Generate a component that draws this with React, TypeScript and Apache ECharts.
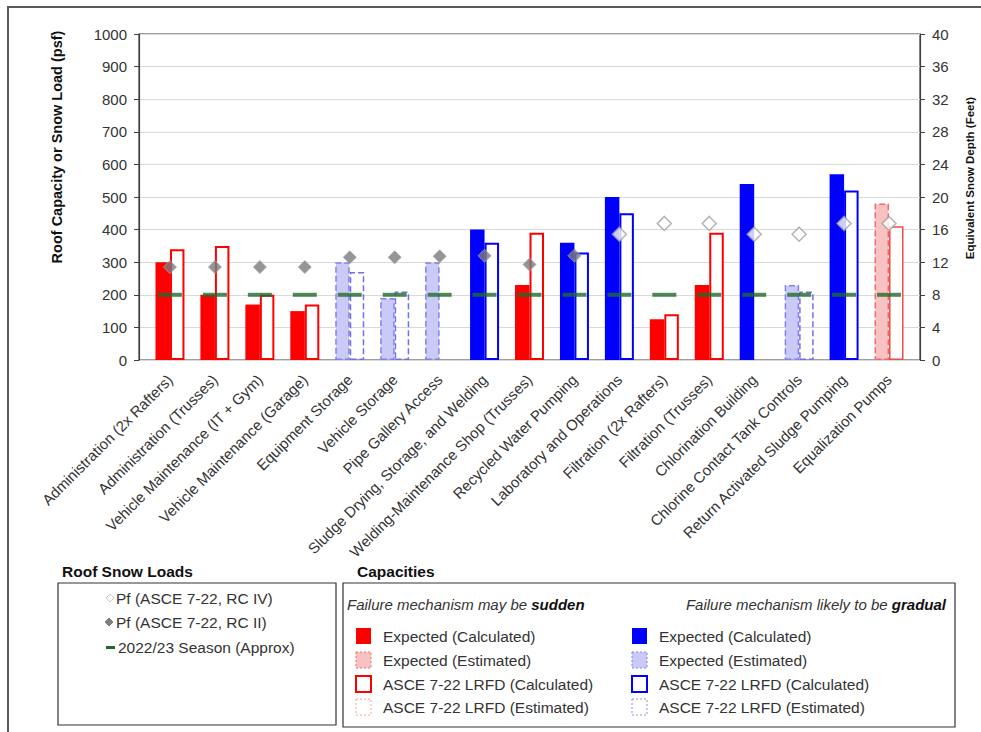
import React, { useEffect, useRef } from "react";
import * as echarts from "echarts";

const categories = [
  "Administration (2x Rafters)",
  "Administration (Trusses)",
  "Vehicle Maintenance (IT + Gym)",
  "Vehicle Maintenance (Garage)",
  "Equipment Storage",
  "Vehicle Storage",
  "Pipe Gallery Access",
  "Sludge Drying, Storage, and Welding",
  "Welding-Maintenance Shop (Trusses)",
  "Recycled Water Pumping",
  "Laboratory and Operations",
  "Filtration (2x Rafters)",
  "Filtration (Trusses)",
  "Chlorination Building",
  "Chlorine Contact Tank Controls",
  "Return Activated Sludge Pumping",
  "Equalization Pumps",
];

const N = null;
// Capacities (psf)
const expSuddenCalc = [300, 200, 170, 150, N, N, N, N, 230, N, N, 125, 230, N, N, N, N];
const expSuddenEst = [N, N, N, N, N, N, N, N, N, N, N, N, N, N, N, N, 480];
const lrfdSuddenCalc = [340, 350, 200, 170, N, N, N, N, 390, N, N, 140, 390, N, N, N, N];
const lrfdSuddenEst = [N, N, N, N, N, N, N, N, N, N, N, N, N, N, N, N, 410];
const expGradualCalc = [N, N, N, N, N, N, N, 400, N, 360, 500, N, N, 540, N, 570, N];
const expGradualEst = [N, N, N, N, 300, 190, 300, N, N, N, N, N, N, N, 230, N, N];
const lrfdGradualCalc = [N, N, N, N, N, N, N, 360, N, 330, 450, N, N, N, N, 520, N];
const lrfdGradualEst = [N, N, N, N, 270, 210, N, N, N, N, N, N, N, N, 210, N, N];

// Roof snow loads (psf)
const pfRC4 = [N, N, N, N, N, N, N, N, N, N, 386, 419, 419, 386, 386, 419, 419];
const pfRC2 = [285, 285, 285, 285, 315, 315, 318, 320, 293, 320, N, N, N, N, N, N, N];
const season2223 = [200, 200, 200, 200, 200, 200, 200, 200, 200, 200, 200, 200, 200, 200, 200, 200, 200];

// Axis ranges
const leftAxis = { min: 0, max: 1000, interval: 100 };
const rightAxis = { min: 0, max: 40, interval: 4 };

const FONT = "'Liberation Sans', Arial, sans-serif";
const TXT = "#333333";

const RED = "#FF0000";
const BLUE = "#0000FF";
const PINK_FILL = "#F9C2C2";
const PINK_LINE = "#F06A6A";
const LAV_FILL = "#CACAF6";
const LAV_LINE = "#8080F0";

export default function App() {
  const ref = useRef<HTMLDivElement>(null);

  useEffect(() => {
    if (!ref.current) return;
    const chart = echarts.init(ref.current, undefined, { renderer: "svg" });

    const BW = 14.5;
    const bar = (name: string, data: any[], stack: string, itemStyle: any, z = 2) => ({
      name,
      type: "bar",
      xAxisIndex: 1,
      yAxisIndex: 2,
      stack,
      data,
      barWidth: BW,
      barGap: "0%",
      itemStyle,
      z,
    });

    const LF = 15.5;
    const rowY = [636, 660, 684, 707];
    const capItems = (x: number, styles: any[], labels: string[]) => {
      const els: any[] = [];
      styles.forEach((st, i) => {
        els.push({ type: "rect", shape: { x, y: rowY[i] - 8, width: 15, height: 16 }, style: st });
        els.push({
          type: "text",
          x: x + 27,
          y: rowY[i],
          style: { text: labels[i], font: `${LF}px ${FONT}`, fill: TXT, verticalAlign: "middle" },
        });
      });
      return els;
    };
    const capLabels = [
      "Expected (Calculated)",
      "Expected (Estimated)",
      "ASCE 7-22 LRFD (Calculated)",
      "ASCE 7-22 LRFD (Estimated)",
    ];

    const option: any = {
      animation: false,
      backgroundColor: "#ffffff",
      textStyle: { fontFamily: FONT },
      grid: [
        { left: 139, right: 61, top: 34, bottom: 372, show: true, borderColor: "#404040", borderWidth: 1.2, backgroundColor: "transparent" },
        { left: 147.5, right: 69.5, top: 34, bottom: 372 },
      ],
      xAxis: [
        { type: "value", gridIndex: 0, min: 0, max: 1, show: false },
        {
          type: "category",
          gridIndex: 1,
          data: categories,
          axisLine: { show: false },
          axisTick: { show: false },
          splitLine: { show: false },
          axisLabel: { interval: 0, rotate: 45, fontSize: 15, color: TXT, fontFamily: FONT, margin: 17 },
        },
      ],
      yAxis: [
        {
          type: "value",
          gridIndex: 0,
          position: "left",
          ...leftAxis,
          axisLine: { show: true, lineStyle: { color: "#404040", width: 1.2 } },
          axisTick: { show: true, inside: false, length: 5, lineStyle: { color: "#404040" } },
          axisLabel: { fontSize: 15, color: TXT, fontFamily: FONT, margin: 12, formatter: (v: number) => String(v) },
          splitLine: { show: true, lineStyle: { color: "#D9D9D9", width: 1 } },
        },
        {
          type: "value",
          gridIndex: 0,
          position: "right",
          ...rightAxis,
          axisLine: { show: true, lineStyle: { color: "#404040", width: 1.2 } },
          axisTick: { show: true, inside: false, length: 5, lineStyle: { color: "#404040" } },
          axisLabel: { fontSize: 15, color: TXT, fontFamily: FONT, margin: 12, formatter: (v: number) => String(v) },
          splitLine: { show: false },
        },
        { type: "value", gridIndex: 1, ...leftAxis, show: false, splitLine: { show: false } },
      ],
      series: [
        bar("Expected (Calculated) - sudden", expSuddenCalc, "exp", { color: RED }),
        bar("Expected (Estimated) - sudden", expSuddenEst, "exp", {
          color: PINK_FILL,
          borderColor: PINK_LINE,
          borderWidth: 1.5,
          borderType: "dashed",
        }),
        bar("Expected (Calculated) - gradual", expGradualCalc, "exp", { color: BLUE }),
        bar("Expected (Estimated) - gradual", expGradualEst, "exp", {
          color: LAV_FILL,
          borderColor: LAV_LINE,
          borderWidth: 1.5,
          borderType: "dashed",
        }),
        bar("ASCE 7-22 LRFD (Calculated) - sudden", lrfdSuddenCalc, "lrfd", {
          color: "#ffffff",
          borderColor: RED,
          borderWidth: 2,
        }),
        bar("ASCE 7-22 LRFD (Estimated) - sudden", lrfdSuddenEst, "lrfd", {
          color: "#ffffff",
          borderColor: "#EE4B4B",
          borderWidth: 1.5,
        }),
        bar("ASCE 7-22 LRFD (Calculated) - gradual", lrfdGradualCalc, "lrfd", {
          color: "#ffffff",
          borderColor: BLUE,
          borderWidth: 2,
        }),
        bar("ASCE 7-22 LRFD (Estimated) - gradual", lrfdGradualEst, "lrfd", {
          color: "rgba(255,255,255,0)",
          borderColor: "#7070E8",
          borderWidth: 1.5,
          borderType: "dashed",
        }),
        {
          name: "2022/23 Season (Approx)",
          type: "scatter",
          xAxisIndex: 1,
          yAxisIndex: 2,
          data: season2223,
          symbol: "rect",
          symbolSize: [24, 4],
          itemStyle: { color: "#1F6B2C" },
          z: 5,
        },
        {
          name: "Pf (ASCE 7-22, RC II)",
          type: "scatter",
          xAxisIndex: 1,
          yAxisIndex: 2,
          data: pfRC2,
          symbol: "diamond",
          symbolSize: 13,
          itemStyle: { color: "#7A7A7A", borderColor: "#A6A6A6", borderWidth: 1 },
          z: 6,
        },
        {
          name: "Pf (ASCE 7-22, RC IV)",
          type: "scatter",
          xAxisIndex: 1,
          yAxisIndex: 2,
          data: pfRC4,
          symbol: "diamond",
          symbolSize: 14,
          itemStyle: { color: "#FFFFFF", borderColor: "#A0A0A0", borderWidth: 1.5 },
          z: 6,
        },
      ],
      graphic: [
        { type: "rect", shape: { x: 8, y: 7, width: 990, height: 740 }, style: { fill: "none", stroke: "#595959", lineWidth: 2 }, silent: true },
        {
          type: "text",
          x: 57,
          y: 147,
          rotation: Math.PI / 2,
          style: { text: "Roof Capacity or Snow Load (psf)", font: `bold 14.5px ${FONT}`, fill: "#111", align: "center", verticalAlign: "middle" },
        },
        {
          type: "text",
          x: 970,
          y: 178,
          rotation: Math.PI / 2,
          style: { text: "Equivalent Snow Depth (Feet)", font: `bold 11.5px ${FONT}`, fill: "#111", align: "center", verticalAlign: "middle" },
        },
        // Roof Snow Loads legend
        { type: "text", x: 62, y: 571, style: { text: "Roof Snow Loads", font: `bold 15.5px ${FONT}`, fill: "#111", verticalAlign: "middle" } },
        { type: "rect", shape: { x: 58, y: 583, width: 278, height: 142 }, style: { fill: "none", stroke: "#333", lineWidth: 1.2 } },
        { type: "polygon", shape: { points: [[110, 594], [114, 598], [110, 602], [106, 598]] }, style: { fill: "#fff", stroke: "#C8C8C8", lineWidth: 1 } },
        { type: "text", x: 116, y: 598, style: { text: "Pf (ASCE 7-22, RC IV)", font: `${LF}px ${FONT}`, fill: TXT, verticalAlign: "middle" } },
        { type: "polygon", shape: { points: [[109, 618], [113, 622], [109, 626], [105, 622]] }, style: { fill: "#7F7F7F", stroke: "#7F7F7F", lineWidth: 1 } },
        { type: "text", x: 116, y: 622, style: { text: "Pf (ASCE 7-22, RC II)", font: `${LF}px ${FONT}`, fill: TXT, verticalAlign: "middle" } },
        { type: "rect", shape: { x: 106, y: 646, width: 9, height: 3 }, style: { fill: "#1F6B2C" } },
        { type: "text", x: 118, y: 647, style: { text: "2022/23 Season (Approx)", font: `${LF}px ${FONT}`, fill: TXT, verticalAlign: "middle" } },
        // Capacities legend
        { type: "text", x: 357, y: 571, style: { text: "Capacities", font: `bold 15.5px ${FONT}`, fill: "#111", verticalAlign: "middle" } },
        { type: "rect", shape: { x: 343, y: 583, width: 612, height: 144 }, style: { fill: "none", stroke: "#333", lineWidth: 1.2 } },
        {
          type: "text",
          x: 347,
          y: 604,
          style: {
            text: "{i|Failure mechanism may be }{b|sudden}",
            verticalAlign: "middle",
            rich: {
              i: { font: `italic 15px ${FONT}`, fill: TXT },
              b: { font: `italic bold 15px ${FONT}`, fill: "#111" },
            },
          },
        },
        {
          type: "text",
          x: 946,
          y: 604,
          style: {
            text: "{i|Failure mechanism likely to be }{b|gradual}",
            align: "right",
            verticalAlign: "middle",
            rich: {
              i: { font: `italic 15px ${FONT}`, fill: TXT },
              b: { font: `italic bold 15px ${FONT}`, fill: "#111" },
            },
          },
        },
        ...capItems(
          356,
          [
            { fill: RED },
            { fill: PINK_FILL, stroke: PINK_LINE, lineWidth: 1, lineDash: [2, 2] },
            { fill: "#fff", stroke: RED, lineWidth: 2 },
            { fill: "#fff", stroke: "#F4A0A0", lineWidth: 1, lineDash: [2, 2] },
          ],
          capLabels
        ),
        ...capItems(
          632,
          [
            { fill: BLUE },
            { fill: LAV_FILL, stroke: LAV_LINE, lineWidth: 1, lineDash: [2, 2] },
            { fill: "#fff", stroke: BLUE, lineWidth: 2 },
            { fill: "#fff", stroke: "#9090E8", lineWidth: 1, lineDash: [2, 2] },
          ],
          capLabels
        ),
      ],
    };

    chart.setOption(option);
    return () => chart.dispose();
  }, []);

  return (
    <div
      ref={ref}
      style={{ position: "fixed", left: 0, top: 0, width: 981, height: 732, background: "#fff" }}
    />
  );
}
